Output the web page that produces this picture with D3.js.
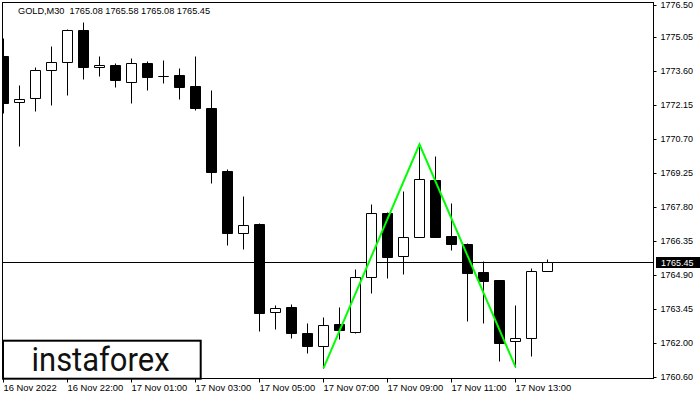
<!DOCTYPE html>
<html>
<head>
<meta charset="utf-8">
<script src="https://cdn.jsdelivr.net/npm/d3@7"></script>
<style>
  html, body { margin: 0; padding: 0; background: #fff; }
  svg { display: block; }
</style>
</head>
<body>
<div id="chart"></div>
<script>
// ---- data ----
const title = "GOLD,M30  1765.08 1765.58 1765.08 1765.45";
const times = ["16 Nov 20:00","16 Nov 20:30","16 Nov 21:00","16 Nov 21:30","16 Nov 22:00","16 Nov 22:30",
  "17 Nov 00:00","17 Nov 00:30","17 Nov 01:00","17 Nov 01:30","17 Nov 02:00","17 Nov 02:30","17 Nov 03:00",
  "17 Nov 03:30","17 Nov 04:00","17 Nov 04:30","17 Nov 05:00","17 Nov 05:30","17 Nov 06:00","17 Nov 06:30",
  "17 Nov 07:00","17 Nov 07:30","17 Nov 08:00","17 Nov 08:30","17 Nov 09:00","17 Nov 09:30","17 Nov 10:00",
  "17 Nov 10:30","17 Nov 11:00","17 Nov 11:30","17 Nov 12:00","17 Nov 12:30","17 Nov 13:00","17 Nov 13:30","17 Nov 14:00"];
const open  = [1774.24,1772.27,1772.44,1773.63,1773.97,1775.35,1773.76,1773.84,1773.14,1773.93,1773.37,1773.42,1772.96,1772.01,1769.35,1766.68,1767.08,1763.31,1763.54,1762.43,1761.89,1762.81,1762.48,1764.80,1767.53,1765.70,1766.51,1768.95,1766.56,1766.23,1765.03,1764.68,1762.07,1762.20,1765.08];
const high  = [1774.99,1773.00,1773.77,1774.67,1775.39,1775.70,1774.24,1773.93,1774.15,1774.01,1774.07,1773.73,1774.24,1772.79,1769.42,1768.27,1767.12,1763.62,1763.66,1762.85,1763.11,1763.54,1765.16,1767.93,1767.60,1768.48,1770.44,1769.97,1767.97,1766.25,1765.50,1764.69,1763.62,1765.20,1765.58];
const low   = [1771.80,1770.41,1771.91,1772.16,1772.59,1773.27,1773.40,1772.93,1772.25,1772.80,1773.10,1772.42,1771.95,1768.81,1766.19,1766.00,1762.52,1762.58,1762.23,1761.59,1760.92,1762.18,1762.44,1764.15,1764.79,1764.96,1766.50,1766.52,1765.97,1762.95,1762.87,1761.25,1760.99,1761.46,1765.08];
const close = [1772.25,1772.41,1773.63,1773.97,1775.35,1773.78,1773.84,1773.23,1773.93,1773.36,1773.38,1772.93,1772.03,1769.31,1766.70,1767.02,1763.29,1763.48,1762.44,1761.89,1762.77,1762.57,1764.80,1767.53,1765.68,1766.51,1768.99,1766.53,1766.23,1765.00,1764.66,1762.01,1762.20,1765.07,1765.45];
const patternIdx    = [20, 26, 32];
const patternPrices = [1760.93, 1770.47, 1760.98];
const currentPrice = 1765.45;
const yTickValues = [1776.50,1775.05,1773.60,1772.15,1770.70,1769.25,1767.80,1766.35,1764.90,1763.45,1762.00,1760.55];
const yTickLabels = ["1776.50","1775.05","1773.60","1772.15","1770.70","1769.25","1767.80","1766.35","1764.90","1763.45","1762.00","1760.60"];
const xTickIdx    = [0,4,8,12,16,20,24,28,32];
const xTickLabels = ["16 Nov 2022","16 Nov 22:00","17 Nov 01:00","17 Nov 03:00","17 Nov 05:00","17 Nov 07:00","17 Nov 09:00","17 Nov 11:00","17 Nov 13:00"];
const logoText = "instaforex";

// ---- layout ----
const W = 700, H = 400;
const plotL = 2.5, plotR = 653.5, plotT = 2.5, plotB = 378.5;

const svg = d3.select("#chart").append("svg").attr("width", W).attr("height", H);

const x = d3.scaleLinear().domain([0, 34]).range([3, 547]);
const y = d3.scaleLinear().domain([1775.05, 1760.55]).range([37, 37 + 14.5 * 23.448]);
const px = v => Math.round(x(v)) + 0.5;
const py = v => Math.round(y(v)) + 0.5;

svg.append("defs").append("clipPath").attr("id", "plotclip")
  .append("rect").attr("x", 3).attr("y", 3).attr("width", 650).attr("height", 375);

const plot = svg.append("g").attr("clip-path", "url(#plotclip)");

// current price line
plot.append("line")
  .attr("x1", 3).attr("x2", 653)
  .attr("y1", py(currentPrice)).attr("y2", py(currentPrice))
  .attr("stroke", "#000").attr("stroke-width", 1);

const candles = d3.range(open.length).map(i => ({i, o: open[i], h: high[i], l: low[i], c: close[i], t: times[i]}));

const cg = plot.append("g");
cg.selectAll("line.wick").data(candles).join("line")
  .attr("class", "wick")
  .attr("x1", d => px(d.i)).attr("x2", d => px(d.i))
  .attr("y1", d => py(d.h)).attr("y2", d => py(d.l))
  .attr("stroke", "#000").attr("stroke-width", 1);

cg.selectAll("path.body").data(candles).join("path")
  .attr("class", "body")
  .attr("d", d => {
    const cx = Math.round(x(d.i));
    const x0 = cx - 4.5, x1 = cx + 5.5;
    const t = py(Math.max(d.o, d.c)), b = py(Math.min(d.o, d.c));
    return `M${x0},${t}H${x1}V${b}H${x0}Z`;
  })
  .attr("fill", d => d.c >= d.o ? "#fff" : "#000")
  .attr("stroke", "#000").attr("stroke-width", 1);

// pattern line
const line = d3.line().x(d => x(d[0]) + 0.5).y(d => y(d[1]));
plot.append("path")
  .datum(patternIdx.map((k, j) => [k, patternPrices[j]]))
  .attr("d", line)
  .attr("fill", "none").attr("stroke", "#00ff00").attr("stroke-width", 2);

// frame
svg.append("rect")
  .attr("x", plotL).attr("y", plotT).attr("width", plotR - plotL).attr("height", plotB - plotT)
  .attr("fill", "none").attr("stroke", "#000").attr("stroke-width", 1);

// right axis
const yAxis = d3.axisRight(y).tickValues(yTickValues)
  .tickFormat((d, i) => yTickLabels[i]).tickSize(3).tickPadding(4);
const ya = svg.append("g").attr("transform", `translate(${plotR},0)`).call(yAxis);
ya.select(".domain").remove();
ya.selectAll(".tick line").attr("stroke", "#000");
ya.selectAll(".tick").attr("transform", d => `translate(0,${Math.max(py(d), 5.5)})`);
ya.selectAll(".tick text").attr("font-family", "'Liberation Sans', Arial, sans-serif")
  .attr("font-size", "9px").attr("fill", "#000").attr("x", 7).attr("dy", "0.33em");

// bottom axis
const xAxis = d3.axisBottom(x).tickValues(xTickIdx)
  .tickFormat((d, i) => xTickLabels[i]).tickSize(4).tickPadding(2);
const xa = svg.append("g").attr("transform", `translate(0,${plotB})`).call(xAxis);
xa.select(".domain").remove();
xa.selectAll(".tick").attr("transform", d => `translate(${px(d)},0)`);
xa.selectAll(".tick line").attr("stroke", "#000");
xa.selectAll(".tick text").attr("font-family", "'Liberation Sans', Arial, sans-serif")
  .attr("font-size", "9.4px").attr("fill", "#000")
  .attr("text-anchor", "start").attr("x", 0).attr("y", 12.5).attr("dy", 0);

// current price label
const cpY = py(currentPrice);
svg.append("rect").attr("x", 656).attr("y", cpY - 5.5).attr("width", 44).attr("height", 11).attr("fill", "#000");
svg.append("text").attr("x", 661).attr("y", cpY + 3.5)
  .attr("font-family", "'Liberation Sans', Arial, sans-serif").attr("font-size", "9px")
  .attr("fill", "#fff").text(currentPrice.toFixed(2));

// title
svg.append("text").attr("x", 18).attr("y", 14)
  .attr("font-family", "'Liberation Sans', Arial, sans-serif").attr("font-size", "9.2px")
  .attr("fill", "#000").attr("xml:space", "preserve").style("white-space", "pre").text(title);

// logo
svg.append("rect").attr("x", 3).attr("y", 340.7).attr("width", 197.7).attr("height", 38)
  .attr("fill", "#fff").attr("stroke", "#000").attr("stroke-width", 2);
svg.append("text").attr("x", 31.5).attr("y", 370.7)
  .attr("font-family", "Roboto, 'DejaVu Sans', sans-serif").attr("font-size", "34px")
  .attr("textLength", 138).attr("lengthAdjust", "spacingAndGlyphs")
  .attr("fill", "#111").text(logoText);
</script>
</body>
</html>
